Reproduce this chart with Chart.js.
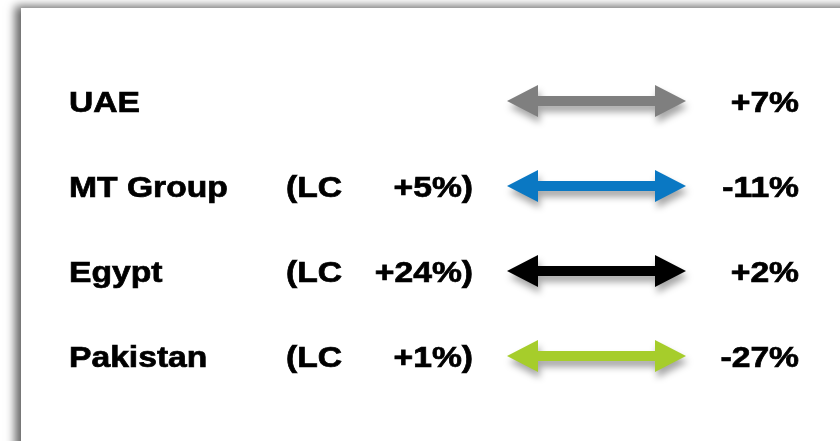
<!DOCTYPE html>
<html>
<head>
<meta charset="utf-8">
<script src="https://cdn.jsdelivr.net/npm/chart.js@4/dist/chart.umd.min.js"></script>
<style>
  html, body { margin: 0; padding: 0; background: #fff; }
  canvas { display: block; }
</style>
</head>
<body>
<canvas id="chart" width="840" height="441"></canvas>
<script>
// rows of the chart
const countries = ['UAE', 'MT Group', 'Egypt', 'Pakistan'];
const lcGrowth = [null, 5, 24, 1];      // local currency growth, %
const changes = [7, -11, 2, -27];        // reported change, %
const arrowColors = ['#7f7f7f', '#0a78c3', '#000000', '#a6cd2b'];

const FONT = 'bold 29px "Liberation Sans", Arial, sans-serif';
const STRETCH = 1.16; // text in the source is a bit wide

function signed(v) {
    return (v > 0 ? '+' : '') + v + '%';
}

function wideText(ctx, text, x, y, align) {
    ctx.save();
    ctx.translate(x, y);
    ctx.scale(STRETCH, 1);
    ctx.textAlign = align;
    ctx.fillText(text, 0, 0);
    ctx.strokeText(text, 0, 0); // source glyphs are a little heavier
    ctx.restore();
}

// white panel with a soft shadow on the top / left
const panelPlugin = {
    id: 'panel',
    beforeDraw(chart) {
        const ctx = chart.ctx;
        ctx.save();
        ctx.fillStyle = '#ffffff';
        ctx.fillRect(0, 0, chart.width, chart.height);
        ctx.shadowColor = 'rgba(0,0,0,0.6)';
        ctx.shadowBlur = 9;
        ctx.shadowOffsetX = -6;
        ctx.shadowOffsetY = -2;
        ctx.fillRect(21, 8, chart.width + 40, chart.height + 40);
        ctx.restore();
    }
};

// double-headed arrows drawn over the (invisible) floating bars
const arrowPlugin = {
    id: 'arrows',
    afterDatasetsDraw(chart) {
        const ctx = chart.ctx;
        const meta = chart.getDatasetMeta(0);
        meta.data.forEach((bar, i) => {
            const x0 = Math.min(bar.base, bar.x);
            const x1 = Math.max(bar.base, bar.x);
            const y = bar.y;
            const head = 31, hh = 16, sh = 5;
            ctx.save();
            ctx.beginPath();
            ctx.moveTo(x0, y);
            ctx.lineTo(x0 + head, y - hh);
            ctx.lineTo(x0 + head, y - sh);
            ctx.lineTo(x1 - head, y - sh);
            ctx.lineTo(x1 - head, y - hh);
            ctx.lineTo(x1, y);
            ctx.lineTo(x1 - head, y + hh);
            ctx.lineTo(x1 - head, y + sh);
            ctx.lineTo(x0 + head, y + sh);
            ctx.lineTo(x0 + head, y + hh);
            ctx.closePath();
            ctx.shadowColor = 'rgba(0,0,0,0.35)';
            ctx.shadowBlur = 7;
            ctx.shadowOffsetX = 2;
            ctx.shadowOffsetY = 6;
            ctx.fillStyle = arrowColors[i];
            ctx.fill();
            ctx.restore();
        });
    }
};

// row texts: name, (LC x%), change
const textPlugin = {
    id: 'rowText',
    afterDraw(chart) {
        const ctx = chart.ctx;
        const yScale = chart.scales.y;
        ctx.save();
        ctx.font = FONT;
        ctx.fillStyle = '#000';
        ctx.strokeStyle = '#000';
        ctx.lineWidth = 0.7;
        ctx.textBaseline = 'alphabetic';
        countries.forEach((name, i) => {
            const y = yScale.getPixelForValue(i) + 11;
            wideText(ctx, name, 69, y, 'left');
            if (lcGrowth[i] !== null) {
                wideText(ctx, '(LC', 286, y, 'left');
                wideText(ctx, signed(lcGrowth[i]) + ')', 473, y, 'right');
            }
            wideText(ctx, signed(changes[i]), 799, y, 'right');
        });
        ctx.restore();
    }
};

new Chart(document.getElementById('chart').getContext('2d'), {
    type: 'bar',
    data: {
        labels: countries,
        datasets: [{
            data: countries.map(() => [0, 1]),
            backgroundColor: 'rgba(0,0,0,0)',
            borderWidth: 0
        }]
    },
    options: {
        indexAxis: 'y',
        responsive: false,
        animation: false,
        layout: { padding: { left: 507, right: 154, top: 58.5, bottom: 42.5 } },
        scales: {
            x: { type: 'linear', min: 0, max: 1, display: false },
            y: { display: false }
        },
        plugins: {
            legend: { display: false },
            tooltip: { enabled: false }
        }
    },
    plugins: [panelPlugin, arrowPlugin, textPlugin]
});
</script>
</body>
</html>
